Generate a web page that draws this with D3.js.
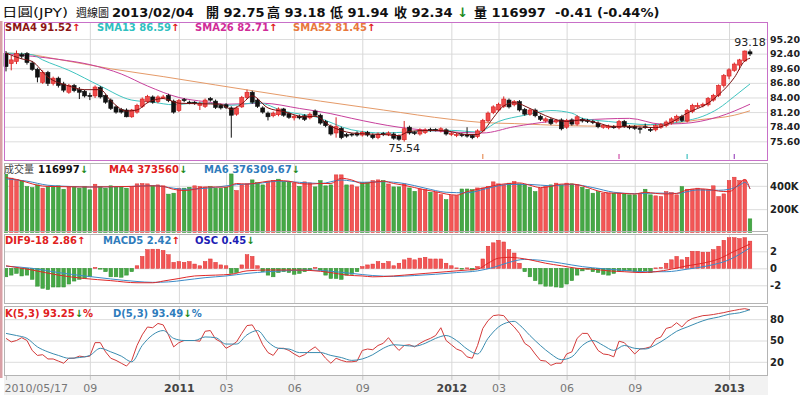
<!DOCTYPE html>
<html>
<head>
<meta charset="utf-8">
<script src="https://cdn.jsdelivr.net/npm/d3@7"></script>
<style>
body { margin: 0; background: #fff; }
svg { display: block; font-family: "DejaVu Sans", "Noto Sans CJK TC", sans-serif; }
</style>
</head>
<body>
<svg id="chart" width="800" height="395"></svg>
<script>
// weekly bars, 2010/05/17 .. 2013/02/04 (143 weeks), x = week index
var firstLabel = "2010/05/17";
var xTickIdx = [16, 33, 42, 55, 68, 85, 94, 107, 120, 138];
var xTickLabels = ["09", "2011", "03", "06", "09", "2012", "03", "06", "09", "2013"];

var priceTicks = [75.6, 78.4, 81.2, 84.0, 86.8, 89.6, 92.4, 95.2];
var volTicks = [200000, 400000];
var macdTicks = [-2, 0, 2];
var kdTicks = [20, 50, 80];

var open = [92.4,90.5,90.9,92.2,92.4,90.6,89.4,86.9,88.8,86.7,
 87.7,86.6,85.0,86.3,85.5,85.2,84.4,84.3,85.9,84.4,
 83.5,82.2,81.7,81.6,80.3,81.2,82.3,83.2,84.1,83.2,
 84.0,84.4,83.3,81.5,83.6,83.1,83.1,82.5,82.3,83.8,
 83.3,82.5,82.6,82.0,80.8,82.2,84.0,85.0,83.5,82.0,
 81.0,80.5,80.7,81.8,80.9,80.1,80.4,80.5,80.1,81.4,
 80.6,79.4,78.5,77.2,78.1,76.9,77.0,77.2,76.8,77.3,
 76.8,76.3,77.1,76.9,77.0,76.6,75.9,78.3,77.3,77.0,
 77.3,77.9,77.9,77.6,77.8,76.9,76.7,76.9,76.9,76.7,
 76.5,77.6,79.5,81.1,81.6,82.3,83.5,82.6,83.2,81.7,
 80.8,81.6,80.4,79.5,79.8,79.3,79.7,78.3,79.7,78.9,
 79.8,79.6,79.4,79.1,78.3,78.2,78.4,78.2,79.4,78.4,
 78.4,78.1,78.4,77.9,77.8,78.3,78.6,79.1,79.5,80.4,
 79.5,81.3,82.2,82.4,82.6,83.5,84.4,86.3,88.1,89.2,
 90.2,91.0,92.75];

var high = [92.9,92.0,93.0,92.6,92.7,91.0,89.7,89.2,89.1,88.0,
 88.0,87.0,86.6,86.6,86.0,85.5,84.9,86.3,86.2,84.6,
 83.8,82.5,82.0,81.9,81.8,82.8,84.0,84.5,84.4,84.4,
 84.5,84.7,83.6,83.7,83.9,83.4,83.3,83.2,83.8,84.1,
 83.6,82.8,82.9,82.3,82.3,84.3,85.5,85.3,83.8,82.3,
 81.3,81.3,82.1,82.0,81.2,80.7,80.7,80.8,81.1,81.7,
 80.9,79.7,78.8,80.2,78.4,77.2,77.2,77.5,77.6,77.6,
 77.1,77.3,77.4,77.5,77.3,76.9,79.5,78.6,77.6,78.1,
 78.1,78.2,78.1,78.3,78.1,77.4,77.2,77.2,78.3,77.0,
 77.9,79.9,81.3,82.5,83.0,84.2,83.8,83.5,83.5,82.0,
 81.9,81.9,80.7,80.2,80.1,79.9,80.0,79.9,80.0,80.6,
 80.1,79.9,79.7,79.4,78.9,78.8,78.7,79.7,79.7,78.7,
 78.7,78.4,79.0,78.2,78.9,79.1,79.6,80.2,80.7,80.7,
 81.8,82.8,83.0,83.0,84.1,84.7,86.5,88.5,89.6,90.7,
 91.4,93.0,93.18];

var low = [89.0,89.2,90.4,91.4,90.3,89.1,86.9,86.6,86.2,86.3,
 85.9,85.0,84.7,85.0,83.7,84.0,83.5,83.9,83.8,82.8,
 81.6,80.9,80.9,80.2,80.1,80.9,82.0,82.9,82.8,82.9,
 83.7,83.1,80.9,81.2,83.1,82.7,82.6,81.6,82.0,83.2,
 81.8,81.7,81.8,76.3,80.5,82.0,83.7,82.8,82.0,80.9,
 79.6,80.2,80.4,80.3,79.9,79.6,79.8,79.5,79.8,80.3,
 78.8,78.3,76.7,76.3,76.0,76.3,76.5,76.5,76.5,76.5,
 76.0,76.0,76.6,76.6,75.9,75.7,75.54,76.9,76.8,76.7,
 77.0,77.4,77.5,77.3,76.7,76.6,76.4,76.4,76.3,76.0,
 76.2,77.3,79.2,80.8,81.3,82.0,81.9,82.3,81.3,80.5,
 80.5,80.2,79.5,79.2,78.7,79.0,77.7,78.0,78.6,78.6,
 79.2,79.1,78.9,78.1,78.0,77.9,78.0,77.9,78.2,77.9,
 77.8,77.1,78.0,77.4,77.5,78.0,78.3,78.8,79.2,79.3,
 79.2,81.0,81.9,82.1,82.3,83.2,84.1,85.9,87.5,88.9,
 89.3,90.8,91.94];

var close = [89.9,91.2,92.4,91.9,90.7,89.4,87.9,88.8,86.7,87.7,
 86.3,85.4,86.3,85.3,85.0,84.3,84.2,86.0,84.1,83.1,
 81.9,81.2,81.2,80.3,81.6,82.5,83.7,84.2,83.1,84.1,
 84.1,83.4,81.2,83.4,83.4,83.0,82.9,82.9,83.5,83.5,
 82.1,82.0,82.1,80.6,82.0,84.0,85.0,83.1,82.3,81.2,
 80.3,81.0,81.8,80.6,80.2,80.4,80.1,79.8,80.8,80.6,
 79.1,78.6,77.0,78.4,76.3,76.6,76.8,76.8,77.3,76.8,
 76.3,77.0,76.9,77.2,76.2,76.0,78.0,77.2,77.1,77.8,
 77.8,77.7,77.7,78.0,77.0,77.1,76.9,76.7,76.6,76.3,
 77.6,79.6,81.0,82.2,82.7,83.7,82.2,83.2,81.6,80.8,
 81.6,80.5,79.8,79.9,79.0,79.6,78.0,79.6,78.9,80.3,
 79.5,79.4,79.2,78.4,78.6,78.5,78.3,79.4,78.5,78.2,
 78.1,77.9,78.3,77.7,78.6,78.8,79.3,79.9,80.4,79.6,
 81.5,82.5,82.5,82.7,83.8,84.4,86.3,88.2,89.3,90.4,
 91.2,92.9,92.34];

// moving averages as [week index, value]
var sma4 = [[0,92.5],[3,91.4],[5,90.9],[8,87.9],[12,86.2],[15,85.5],[18,85.5],[20,83.4],[23,81.4],[25,81.6],
 [27,83.0],[30,83.8],[33,82.9],[37,82.8],[41,82.7],[43,81.7],[45,82.8],[47,84.3],[50,82.0],[53,81.3],
 [57,80.3],[59,80.4],[62,78.5],[66,77.2],[69,77.0],[72,76.9],[75,76.7],[77,77.5],[81,77.7],[84,77.6],
 [88,76.9],[90,76.9],[91,77.5],[93,80.1],[95,82.4],[97,83.0],[100,81.9],[103,80.5],[107,79.4],[110,79.7],
 [113,79.1],[116,78.4],[120,78.4],[124,78.2],[126,78.8],[128,79.8],[130,81.0],[134,82.9],[136,84.5],[139,87.8],
 [141,91.0],[142,91.52]];
var sma13 = [[0,92.5],[5,92.2],[7,91.2],[12,89.2],[18,86.2],[24,83.5],[28,83.1],[32,82.6],[37,83.0],[43,82.5],
 [48,83.0],[53,81.4],[59,80.3],[66,77.8],[72,77.2],[77,77.4],[85,77.7],[90,77.4],[94,79.4],[99,80.6],
 [104,81.5],[108,81.0],[110,80.0],[115,79.4],[123,78.8],[129,79.4],[133,80.4],[136,81.9],[139,84.2],[142,86.59]];
var sma26 = [[0,92.4],[5,91.9],[10,91.3],[16,90.3],[22,88.5],[27,86.2],[33,84.0],[38,83.2],[42,82.7],[49,82.9],
 [56,81.9],[62,80.9],[66,80.0],[75,78.3],[85,77.4],[91,77.2],[97,78.4],[104,79.4],[110,79.7],[119,80.0],
 [125,78.9],[129,79.0],[136,80.3],[142,82.71]];
var sma52 = [[0,92.5],[4,92.3],[10,91.3],[20,89.5],[30,88.0],[40,86.4],[47,85.3],[60,83.3],[72,81.6],[85,79.8],
 [91,79.2],[97,79.0],[107,78.6],[115,78.5],[126,78.9],[132,79.7],[139,80.6],[142,81.45]];

// small event markers at the bottom of the price panel
var eventIdx = [91, 117, 130, 139];
var eventColors = ["#e8905a", "#d050a8", "#40c0c0", "#a050c0"];

var volume = [500000,466000,453000,445000,394000,385000,408000,380000,394000,394000,
 400000,371000,394000,394000,380000,394000,366000,414000,394000,380000,
 400000,388000,394000,380000,394000,417000,420000,417000,400000,408000,
 400000,329000,337000,380000,380000,388000,400000,394000,388000,394000,
 380000,380000,388000,502000,360000,408000,417000,451000,428000,408000,
 437000,446000,457000,437000,437000,423000,395000,434000,425000,391000,
 445000,400000,408000,494000,494000,408000,408000,391000,429000,429000,
 445000,451000,445000,416000,391000,391000,416000,382000,353000,373000,
 368000,345000,345000,325000,282000,316000,316000,373000,373000,368000,
 382000,382000,395000,434000,417000,408000,423000,437000,417000,408000,
 388000,351000,380000,394000,408000,423000,408000,423000,417000,408000,
 388000,371000,337000,351000,337000,337000,337000,337000,331000,323000,
 323000,337000,371000,323000,314000,308000,351000,343000,323000,394000,
 371000,371000,380000,371000,366000,400000,308000,331000,446000,474000,
 446000,451000,116997];
// bar colour as shown in the picture: 1 red, 0 green
var volUp = [0,1,1,0,0,0,0,1,0,0, 0,0,1,0,0,0,0,1,0,0,
 0,0,0,0,1,1,1,1,0,1, 1,0,0,1,0,0,1,1,1,0,
 0,0,0,0,1,1,1,0,0,0, 1,1,0,0,0,1,0,1,1,0,
 0,0,0,1,1,0,1,1,0,0, 1,1,0,1,0,0,1,0,0,1,
 1,0,1,1,0,1,1,0,0,0, 1,1,1,1,1,1,0,1,0,0,
 0,0,1,1,0,1,0,1,0,1, 0,0,0,0,1,1,0,1,0,0,
 0,1,0,0,1,1,1,1,1,0, 1,1,1,1,1,1,1,1,1,1,
 1,1,0];

var volMA4 = [[0,470000],[2,455000],[4,430000],[6,405000],[8,395000],[12,392000],[16,390000],[20,392000],[24,395000],[28,400000],
 [30,395000],[32,370000],[34,360000],[36,370000],[38,390000],[40,390000],[42,388000],[44,420000],[46,415000],[48,425000],
 [50,440000],[52,445000],[54,440000],[56,420000],[58,415000],[60,420000],[62,420000],[64,465000],[66,450000],[68,420000],
 [70,430000],[72,440000],[74,420000],[76,405000],[78,385000],[80,365000],[82,350000],[84,330000],[86,320000],[88,350000],
 [90,370000],[92,390000],[94,410000],[96,420000],[98,425000],[100,405000],[102,385000],[104,395000],[106,415000],[108,415000],
 [110,400000],[112,370000],[114,345000],[116,337000],[118,335000],[120,330000],[122,345000],[124,335000],[126,330000],[128,335000],
 [130,365000],[132,375000],[134,370000],[136,355000],[138,350000],[140,420000],[141,455000],[142,373560]];
var volMA6 = [[0,460000],[4,440000],[8,405000],[12,395000],[16,390000],[20,392000],[24,395000],[28,402000],[32,380000],[34,370000],
 [36,372000],[40,388000],[44,410000],[48,420000],[52,440000],[56,430000],[60,420000],[64,450000],[68,430000],[72,435000],
 [76,420000],[80,380000],[84,345000],[88,340000],[92,380000],[96,412000],[100,412000],[104,400000],[108,412000],[112,385000],
 [116,345000],[120,333000],[124,338000],[128,335000],[132,365000],[136,362000],[138,370000],[140,405000],[141,430000],[142,376310]];

// MACD panel: histogram in panel units, DIF / MACD lines as [index, value]
var oscHist = [-1.0,-0.8,-0.6,-0.9,-0.8,-1.3,-2.1,-2.35,-2.5,-2.2,
 -2.2,-2.2,-1.85,-1.5,-1.3,-1.2,-1.0,0.1,-0.1,-0.4,
 -1.0,-1.0,-1.05,-0.8,-0.4,0.3,1.4,2.2,2.25,2.25,
 2.1,1.6,0.7,0.8,0.7,0.8,0.5,0.3,0.8,1.1,
 0.7,0.4,0.3,-0.6,-0.5,0.4,1.6,1.4,0.3,-0.4,
 -0.8,-1.0,-0.5,-0.4,-0.5,-0.7,-0.6,-0.4,-0.2,0.1,
 -0.2,-0.8,-1.2,-1.2,-1.3,-0.8,-0.7,-0.4,0.2,0.4,
 0.5,0.8,0.6,0.8,0.3,0.6,1.0,1.2,1.0,1.2,
 1.3,1.1,1.1,1.1,0.6,0.3,0.05,-0.1,0.05,-0.2,
 0.2,1.1,2.6,3.0,3.3,3.1,2.2,1.8,0.6,-0.4,
 -1.0,-1.45,-1.85,-2.1,-2.1,-2.2,-2.25,-1.85,-1.45,-0.8,
 -0.3,-0.1,-0.4,-0.5,-0.7,-0.8,-0.6,-0.3,-0.3,-0.3,
 -0.4,-0.4,-0.3,-0.5,0.05,0.1,0.6,1.0,1.4,1.0,
 1.3,2.0,2.0,1.9,1.9,2.2,2.6,3.3,3.6,3.6,
 3.5,3.6,3.2];
var difLine = [[0,0.3],[5,-0.2],[10,-0.8],[15,-1.2],[20,-1.45],[25,-1.7],[28,-1.7],[30,-1.5],[33,-1.2],[36,-0.9],
 [40,-0.8],[43,-0.7],[46,-0.3],[50,-0.2],[55,-0.2],[58,-0.25],[62,-0.5],[65,-0.8],[68,-0.9],[70,-1.0],
 [74,-0.9],[76,-0.8],[80,-0.6],[84,-0.4],[88,-0.2],[90,-0.1],[92,0.6],[94,1.2],[96,1.3],[98,1.2],
 [100,1.0],[103,0.6],[106,0.3],[109,0.0],[112,-0.1],[115,-0.3],[118,-0.4],[121,-0.5],[124,-0.4],[127,-0.1],
 [130,0.3],[133,0.6],[136,1.1],[139,2.0],[142,2.86]];
var macdLine = [[0,0.25],[5,0.0],[10,-0.5],[15,-0.9],[20,-1.25],[25,-1.55],[28,-1.65],[31,-1.6],[34,-1.4],[38,-1.1],
 [42,-0.9],[46,-0.6],[50,-0.4],[55,-0.25],[58,-0.2],[62,-0.35],[66,-0.6],[70,-0.85],[74,-0.95],[78,-0.85],
 [82,-0.7],[86,-0.5],[90,-0.3],[93,0.1],[96,0.7],[99,1.05],[102,0.95],[106,0.6],[110,0.2],[114,-0.05],
 [118,-0.25],[122,-0.4],[126,-0.4],[130,-0.1],[134,0.3],[138,1.0],[142,2.42]];

// KD panel
var kLine = [53,48,50,54,50,36,29,30,24,24,
 21,18,25,25,28,27,28,47,47,34,
 25,22,18,14,22,43,58,69,68,74,
 72,58,41,47,50,50,50,49,63,64,
 52,48,39,43,48,60,71,72,60,44,
 33,29,39,39,36,31,27,30,36,41,
 34,25,18,25,22,20,20,21,36,38,
 37,43,46,54,44,36,43,44,41,46,
 50,53,57,68,50,44,38,35,27,25,
 43,67,78,85,86,85,76,69,60,46,
 41,31,22,21,15,18,18,31,34,53,
 60,60,48,36,31,30,27,49,47,39,
 31,38,39,41,52,55,67,69,75,69,
 77,81,83,85,85.6,86.6,88,89.3,91,92.4,
 93.8,94.8,93.25];
var dLine = [[0,60],[2,57],[4,53],[6,41],[8,34],[10,29],[12,25],[14,26],[16,29],[18,39],
 [20,34],[22,28],[24,20],[26,43],[28,58],[30,64],[32,53],[34,50],[36,50],[38,55],
 [40,54],[42,45],[44,45],[46,58],[48,64],[50,48],[52,39],[54,38],[56,33],[58,33],
 [60,33],[62,29],[64,26],[66,22],[68,24],[70,30],[72,39],[74,44],[76,43],[78,42],
 [80,46],[82,53],[84,57],[86,50],[88,38],[90,31],[92,53],[94,69],[96,76],[97,77],
 [98,72],[100,57],[102,43],[104,31],[106,23],[108,27],[110,43],[112,50],[114,43],[116,36],
 [118,43],[120,39],[122,38],[124,44],[126,53],[128,63],[130,69],[132,75],[134,80],[136,83],
 [138,87],[140,89],[142,93.49]];

var headerParts = ["日圓(JPY)", "週線圖", "2013/02/04", "開 92.75", "高 93.18", "低 91.94", "收 92.34", "量 116997", "-0.41 (-0.44%)"];
var priceLegend = ["SMA4 91.52", "SMA13 86.59", "SMA26 82.71", "SMA52 81.45"];
var volLegend = ["成交量", "116997", "MA4 373560", "MA6 376309.67"];
var macdLegend = ["DIF9-18 2.86", "MACD5 2.42", "OSC 0.45"];
var kdLegend = ["K(5,3) 93.25", "D(5,3) 93.49"];

var UP = "#e01818", DOWN = "#1a8a1a";

var svg = d3.select("#chart");
var L = 4, R = 768;

var x = d3.scaleLinear().domain([0, close.length - 1]).range([6, 750]);
var priceY = d3.scaleLinear().domain([71.83, 98.46]).range([161, 22]);
var volY = d3.scaleLinear().domain([0, 600000]).range([232.5, 162.5]);
var macdY = d3.scaleLinear().domain([-4.2, 4.04]).range([304, 234]);
var kdY = d3.scaleLinear().domain([0, 100]).range([376, 305]);

var panels = [
  {top: 22, bottom: 161, y: priceY, ticks: priceTicks, fmt: d3.format(".2f"), border: "#c870c8", size: 9.5},
  {top: 163, bottom: 232, y: volY, ticks: volTicks, fmt: function(d){ return d / 1000 + "K"; }, border: "#b4b4b4", size: 10},
  {top: 234, bottom: 304, y: macdY, ticks: macdTicks, fmt: function(d){ return String(d); }, border: "#b4b4b4", size: 10},
  {top: 306, bottom: 376, y: kdY, ticks: kdTicks, fmt: function(d){ return String(d); }, border: "#b4b4b4", size: 10}
];

// x axis strip
svg.append("rect").attr("x", L).attr("y", 376).attr("width", R - L).attr("height", 19).attr("fill", "#f2f2f2");

panels.forEach(function(p){
  svg.append("rect").attr("x", L).attr("y", p.top).attr("width", R - L).attr("height", p.bottom - p.top).attr("fill", "#fff");

  svg.append("g").attr("transform", "translate(" + L + ",0)")
    .call(d3.axisRight(p.y).tickValues(p.ticks).tickSize(R - L).tickFormat(""))
    .call(function(a){ a.select(".domain").remove(); })
    .selectAll("line").attr("stroke", "#dcdcdc");

  svg.append("g").attr("transform", "translate(0," + p.bottom + ")")
    .call(d3.axisBottom(x).tickValues(xTickIdx).tickSize(-(p.bottom - p.top)).tickFormat(""))
    .call(function(a){ a.select(".domain").remove(); })
    .selectAll("line").attr("stroke", "#d8d8d8");

  svg.append("g").attr("transform", "translate(" + (R + 2) + ",0)")
    .call(d3.axisRight(p.y).tickValues(p.ticks).tickSize(0).tickPadding(0).tickFormat(p.fmt))
    .attr("font-family", "DejaVu Sans").attr("font-size", p.size).attr("font-weight", "bold")
    .call(function(a){ a.select(".domain").remove(); })
    .selectAll("text").attr("fill", "#222");
});

// ---- price panel
var candles = close.map(function(c, i){
  return {i: i, o: open[i], h: high[i], l: low[i], c: c, up: c >= open[i]};
});

function line(yScale){
  return d3.line().x(function(d){ return x(d[0]); }).y(function(d){ return yScale(d[1]); }).curve(d3.curveMonotoneX);
}
function drawLine(data, yScale, color){
  svg.append("path").datum(data).attr("d", line(yScale))
    .attr("fill", "none").attr("stroke", color).attr("stroke-width", 1);
}

drawLine(sma52, priceY, "#e59a68");
drawLine(sma26, priceY, "#c8409c");
drawLine(sma13, priceY, "#40c4c0");

var cg = svg.append("g");
cg.selectAll("line").data(candles).join("line")
  .attr("x1", function(d){ return x(d.i); }).attr("x2", function(d){ return x(d.i); })
  .attr("y1", function(d){ return priceY(d.h); }).attr("y2", function(d){ return priceY(d.l); })
  .attr("stroke", function(d){ return d.up ? "#d82020" : "#111"; });
cg.selectAll("rect").data(candles).join("rect")
  .attr("x", function(d){ return x(d.i) - 2; }).attr("width", 4)
  .attr("y", function(d){ return priceY(Math.max(d.o, d.c)); })
  .attr("height", function(d){ return Math.max(1, priceY(Math.min(d.o, d.c)) - priceY(Math.max(d.o, d.c))); })
  .attr("fill", function(d){ return d.up ? "#f04a4a" : "#111"; })
  .attr("stroke", function(d){ return d.up ? "#d82020" : "#111"; }).attr("stroke-width", 0.6);

drawLine(sma4, priceY, "#7a1010");

svg.append("g").selectAll("line").data(eventIdx).join("line")
  .attr("x1", function(d){ return x(d); }).attr("x2", function(d){ return x(d); })
  .attr("y1", 154).attr("y2", 159)
  .attr("stroke", function(d, i){ return eventColors[i]; }).attr("stroke-width", 1.2);

var hi = d3.maxIndex(high), lo = d3.minIndex(low);
svg.append("text").attr("x", x(hi)).attr("y", priceY(high[hi]) - 4).attr("text-anchor", "middle")
  .attr("font-size", 11).attr("fill", "#222").text(high[hi].toFixed(2));
svg.append("text").attr("x", x(lo)).attr("y", priceY(low[lo]) + 10).attr("text-anchor", "middle")
  .attr("font-size", 11).attr("fill", "#222").text(low[lo].toFixed(2));

// ---- volume panel
svg.append("g").selectAll("rect").data(volume).join("rect")
  .attr("x", function(d, i){ return x(i) - 1.8; }).attr("width", 3.6)
  .attr("y", function(d){ return volY(d); })
  .attr("height", function(d){ return volY(0) - volY(d); })
  .attr("fill", function(d, i){ return volUp[i] ? "#f25656" : "#46a846"; })
  .attr("stroke", function(d, i){ return volUp[i] ? "#dc3030" : "#2f8f2f"; }).attr("stroke-width", 0.5);
drawLine(volMA6, volY, "#3c84c4");
drawLine(volMA4, volY, "#e02828");

// ---- MACD panel
svg.append("g").selectAll("rect").data(oscHist).join("rect")
  .attr("x", function(d, i){ return x(i) - 1.8; }).attr("width", 3.6)
  .attr("y", function(d){ return macdY(Math.max(0, d)); })
  .attr("height", function(d){ return Math.max(0.8, Math.abs(macdY(d) - macdY(0))); })
  .attr("fill", function(d){ return d >= 0 ? "#f25656" : "#46a846"; })
  .attr("stroke", function(d){ return d >= 0 ? "#dc3030" : "#2f8f2f"; }).attr("stroke-width", 0.5);
drawLine(macdLine, macdY, "#3c8cc8");
drawLine(difLine, macdY, "#e02828");

// ---- KD panel
svg.append("path").datum(kLine)
  .attr("d", d3.line().x(function(d, i){ return x(i); }).y(function(d){ return kdY(d); }))
  .attr("fill", "none").attr("stroke", "#d43a3a").attr("stroke-width", 1);
drawLine(dLine, kdY, "#3a8cb0");

// panel borders
panels.forEach(function(p){
  svg.append("rect").attr("x", L + 0.5).attr("y", p.top + 0.5).attr("width", R - L - 1).attr("height", p.bottom - p.top - 1)
    .attr("fill", "none").attr("stroke", p.border);
});
svg.append("rect").attr("x", 0).attr("y", 21).attr("width", 2.5).attr("height", 357).attr("fill", "#d9a0a6");

// ---- x axis
var xa = svg.append("g").attr("transform", "translate(0,376)")
  .call(d3.axisBottom(x).tickValues([0].concat(xTickIdx)).tickSize(4).tickPadding(4)
    .tickFormat(function(d, i){ return i === 0 ? firstLabel : xTickLabels[i - 1]; }))
  .attr("font-family", "DejaVu Sans").attr("font-size", 11);
xa.select(".domain").remove();
xa.selectAll("line").attr("stroke", "#c8c8c8");
xa.selectAll("text")
  .attr("font-weight", function(d, i){ return i > 0 && xTickLabels[i - 1].length === 4 ? "bold" : "normal"; })
  .attr("fill", function(d, i){ return i > 0 && xTickLabels[i - 1].length === 4 ? "#444" : "#777"; });
xa.selectAll("text").filter(function(d, i){ return i === 0; }).attr("text-anchor", "start").attr("x", -2);

// ---- header and legends
function textRow(yb, items){
  items.forEach(function(it){
    var t = svg.append("text").attr("x", it.x).attr("y", yb)
      .attr("font-size", it.size || 10).attr("font-weight", it.weight || "bold");
    if (it.len) t.attr("textLength", it.len).attr("lengthAdjust", "spacingAndGlyphs");
    it.parts.forEach(function(pt){ t.append("tspan").attr("fill", pt[1]).text(pt[0]); });
  });
}

textRow(17, [
  {x: 2, size: 12, weight: "normal", len: 66, parts: [[headerParts[0], "#111"]]},
  {x: 76, size: 11, weight: "normal", parts: [[headerParts[1], "#111"]]},
  {x: 112, size: 13, parts: [[headerParts[2], "#111"]]},
  {x: 206, size: 13, parts: [[headerParts[3], "#111"]]},
  {x: 267, size: 13, parts: [[headerParts[4], "#111"]]},
  {x: 330, size: 13, parts: [[headerParts[5], "#111"]]},
  {x: 394, size: 13, parts: [[headerParts[6], "#111"], [" ↓", DOWN]]},
  {x: 474, size: 13, parts: [[headerParts[7], "#111"]]},
  {x: 555, size: 13, parts: [[headerParts[8], "#111"]]}
]);

textRow(31, [
  {x: 5, parts: [[priceLegend[0], "#8c1414"], ["↑", UP]]},
  {x: 97, parts: [[priceLegend[1], "#30c0c0"], ["↑", UP]]},
  {x: 195, parts: [[priceLegend[2], "#d02c98"], ["↑", UP]]},
  {x: 293, parts: [[priceLegend[3], "#e8783c"], ["↑", UP]]}
]);

textRow(173, [
  {x: 4, size: 10, weight: "normal", parts: [[volLegend[0], "#444"]]},
  {x: 38, parts: [[volLegend[1], "#111"], ["↓", DOWN]]},
  {x: 109, parts: [[volLegend[2], "#e02020"], ["↓", DOWN]]},
  {x: 204, parts: [[volLegend[3], "#2f7cbc"], ["↓", DOWN]]}
]);

textRow(244, [
  {x: 5, parts: [[macdLegend[0], "#e02020"], ["↑", UP]]},
  {x: 103, parts: [[macdLegend[1], "#2f7cbc"], ["↑", UP]]},
  {x: 195, parts: [[macdLegend[2], "#1c1cb4"], ["↓", DOWN]]}
]);

textRow(317, [
  {x: 5, parts: [[kdLegend[0], "#e02020"], ["↓", DOWN], ["%", "#e02020"]]},
  {x: 113, parts: [[kdLegend[1], "#2f7cbc"], ["↓", DOWN], ["%", "#2f7cbc"]]}
]);
</script>
</body>
</html>
